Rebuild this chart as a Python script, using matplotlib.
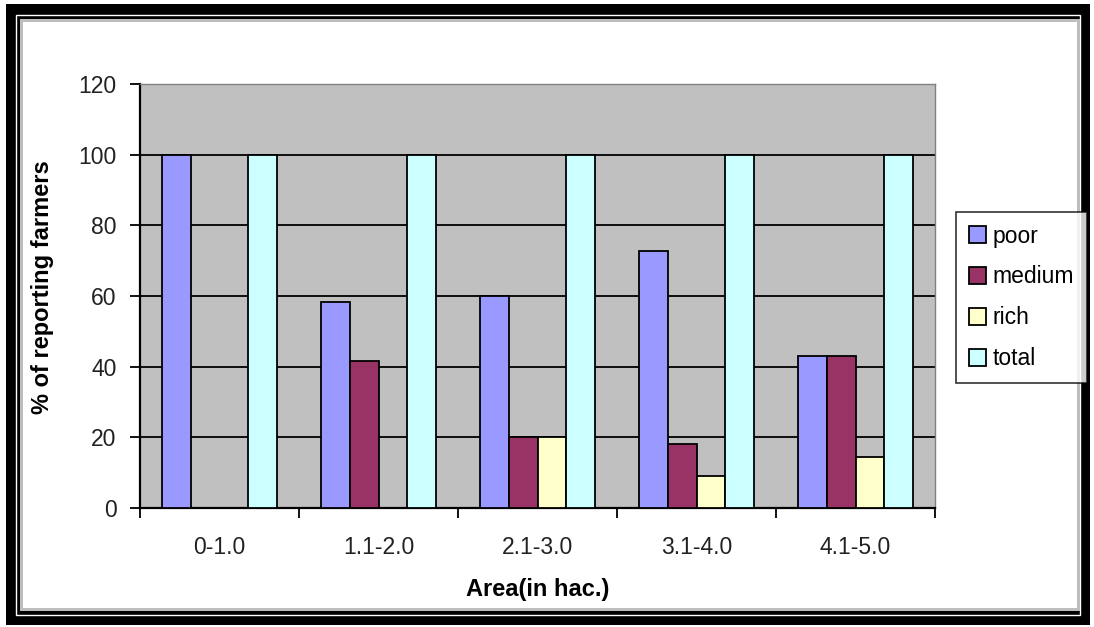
import numpy as np
import matplotlib.pyplot as plt
from matplotlib.patches import Rectangle

plt.rcParams['font.family'] = ['Liberation Sans', 'DejaVu Sans']

# Datos: porcentaje de agricultores por clase de superficie
areas = ['0-1.0', '1.1-2.0', '2.1-3.0', '3.1-4.0', '4.1-5.0']
poor = [100, 58.3, 60, 72.7, 42.9]
medium = [0, 41.7, 20, 18.2, 42.9]
rich = [0, 0, 20, 9.1, 14.3]
total = [100, 100, 100, 100, 100]

series = [('poor', poor, '#9999FF'),
          ('medium', medium, '#993366'),
          ('rich', rich, '#FFFFCC'),
          ('total', total, '#CCFFFF')]

fig = plt.figure(figsize=(10.94, 6.27), dpi=100)
fig.patch.set_facecolor('white')

# Marco negro exterior con panel blanco dentro
W, H = 1094, 627
def fr(x, y, w, h, **kw):
    fig.patches.append(Rectangle((x / W, 1 - (y + h) / H), w / W, h / H,
                                 transform=fig.transFigure, **kw))

fr(6, 4, 1084, 621, facecolor='black', edgecolor='none', zorder=0)
fr(16, 15, 1064, 600, facecolor='none', edgecolor='white', lw=1.0, zorder=1)
fr(20, 19, 1060, 592, facecolor='#bdbdbd', edgecolor='none', zorder=1)
fr(23, 22, 1054, 586, facecolor='white', edgecolor='none', zorder=1)

ax = fig.add_axes([140 / W, 1 - 508 / H, (935 - 140) / W, (508 - 84) / H])
ax.set_zorder(2)
ax.set_facecolor('#C0C0C0')

x = np.arange(len(areas))
ancho = 1 / 5.5
for k, (nombre, valores, color) in enumerate(series):
    ax.bar(x + (k - 1.5) * ancho, valores, ancho, color=color,
           edgecolor='black', linewidth=1.3, label=nombre, zorder=3)

ax.set_xlim(-0.5, len(areas) - 0.5)
ax.set_ylim(0, 120)
ax.set_yticks(range(0, 121, 20))
ax.yaxis.grid(True, color='black', linewidth=1.3, zorder=1)
ax.set_axisbelow(True)

# Marcas del eje x en los límites de cada categoría
ax.set_xticks(np.arange(-0.5, len(areas)), minor=False)
ax.set_xticklabels([])
ax.set_xticks(x, minor=True)
ax.set_xticklabels(areas, minor=True)
ax.tick_params(axis='x', which='major', length=7, width=1.3, direction='out')
ax.tick_params(axis='x', which='minor', length=0, pad=20, labelsize=16.5, labelcolor='#222222')
ax.tick_params(axis='y', length=7, width=1.3, direction='out', labelsize=16.5,
               labelcolor='#222222', pad=10)

for lado in ['top', 'right']:
    ax.spines[lado].set_color('#808080')
    ax.spines[lado].set_linewidth(1.0)
for lado in ['left', 'bottom']:
    ax.spines[lado].set_color('black')
    ax.spines[lado].set_linewidth(1.6)

ax.set_xlabel('Area(in hac.)', fontsize=17, fontweight='bold')
ax.set_ylabel('% of reporting farmers', fontsize=17, fontweight='bold')
ax.xaxis.set_label_coords(0.5, -0.165)
ax.yaxis.set_label_coords(-0.108, 0.52)

leg = fig.legend(loc='upper left', bbox_to_anchor=(956 / W, 1 - 212 / H),
                 fontsize=16.5, frameon=True, fancybox=False, edgecolor='black',
                 handlelength=0.75, handleheight=0.75, handletextpad=0.3,
                 labelspacing=0.78, borderpad=0.55, borderaxespad=0)
leg.get_frame().set_linewidth(1.2)
leg.set_zorder(5)

plt.savefig('out.png', dpi=100)
